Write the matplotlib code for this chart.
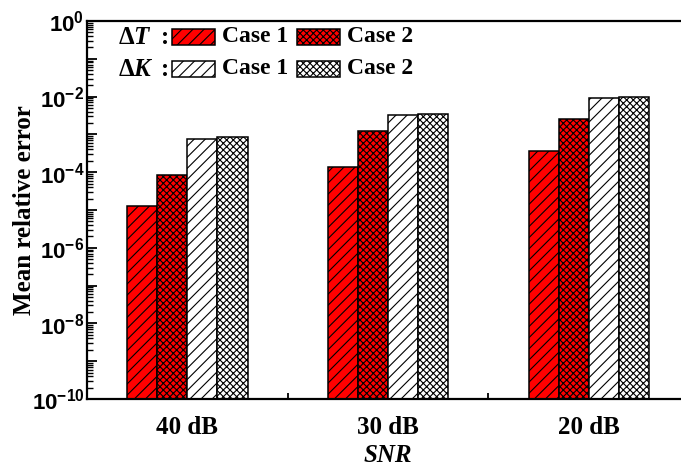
import numpy as np
import matplotlib
matplotlib.use("Agg")
import matplotlib.pyplot as plt
from matplotlib.patches import Rectangle
from matplotlib.ticker import FixedLocator, NullFormatter

plt.rcParams["mathtext.fontset"] = "custom"
plt.rcParams["mathtext.rm"] = "Liberation Serif:bold"
plt.rcParams["mathtext.it"] = "Liberation Serif:italic:bold"
plt.rcParams["mathtext.bf"] = "Liberation Sans:bold"
plt.rcParams["hatch.linewidth"] = 0.8

# data
snr_levels = ["40 dB", "30 dB", "20 dB"]
dT_case1 = [1.3e-5, 1.35e-4, 3.7e-4]
dT_case2 = [8.3e-5, 1.25e-3, 2.55e-3]
dK_case1 = [7.6e-4, 3.25e-3, 9.2e-3]
dK_case2 = [8.7e-4, 3.45e-3, 9.8e-3]
y_exponents = [0, -2, -4, -6, -8, -10]

series = [
    (dT_case1, "red", "///"),
    (dT_case2, "red", "xxxxx"),
    (dK_case1, "white", "///"),
    (dK_case2, "white", "xxxxx"),
]

fig = plt.figure(figsize=(6.81, 4.72), dpi=100)
ax = fig.add_axes([0.1278, 0.1547, 0.884, 0.8008])

x = np.arange(1, len(snr_levels) + 1)
width = 0.15
offsets = (np.arange(len(series)) - 1.5) * width
floor = 1e-10
for (vals, color, hatch), off in zip(series, offsets):
    ax.bar(x + off, np.array(vals) - floor, width, bottom=floor, color=color,
           edgecolor="black", hatch=hatch, linewidth=1.1)

ax.set_yscale("log")
ax.set_ylim(1e-10, 1)
ax.set_xlim(0.5, len(snr_levels) + 0.5)

# y ticks
major = [10.0 ** e for e in range(-10, 1)]
ax.yaxis.set_major_locator(FixedLocator(major))
ax.yaxis.set_minor_locator(FixedLocator(
    [m * 10.0 ** e for e in range(-10, 0) for m in range(2, 10)]))
labels = []
for e in range(-10, 1):
    labels.append(r"$\mathbf{10^{%d}}$" % e if e in y_exponents else "")
ax.set_yticklabels(labels, fontsize=16)
ax.yaxis.set_minor_formatter(NullFormatter())
ax.tick_params(axis="y", which="major", direction="in", length=7, width=1.3, pad=2)
ax.tick_params(axis="y", which="minor", direction="in", length=4, width=1.0)

# x ticks
ax.set_xticks(x)
ax.set_xticklabels(snr_levels, fontsize=18, fontfamily="Liberation Serif",
                   fontweight="bold")
ax.set_xticks(x[:-1] + 0.5, minor=True)
ax.tick_params(axis="x", which="major", length=0, pad=12)
ax.tick_params(axis="x", which="minor", direction="in", length=4, width=1.3)

for side in ["left", "bottom", "top", "right"]:
    ax.spines[side].set_linewidth(1.6)

ax.set_ylabel("Mean relative error", fontsize=18, fontfamily="Liberation Serif",
              fontweight="bold")
ax.yaxis.set_label_coords(-0.085, 0.5)
ax.set_xlabel("SNR", fontsize=18, fontfamily="Liberation Serif",
              fontweight="bold", fontstyle="italic")
ax.xaxis.set_label_coords(0.5, -0.12)

# legend drawn in figure pixel coordinates
W, H = 681, 472
def fx(px):
    return px / W
def fy(py):
    return 1 - py / H

rows = [
    (r"$\Delta T$", 37, series[0], series[1]),
    (r"$\Delta K$", 69, series[2], series[3]),
]
for title, yc, s1, s2 in rows:
    fig.text(fx(118), fy(yc), title, fontsize=18, fontfamily="Liberation Serif",
             fontweight="bold", va="center", ha="left")
    fig.text(fx(161), fy(yc), ":", fontsize=18, fontfamily="Liberation Serif",
             fontweight="bold", va="center", ha="left")
    for xp, (vals, color, hatch), lab in [(172, s1, "Case 1"), (297, s2, "Case 2")]:
        fig.patches.append(Rectangle((fx(xp), fy(yc + 8)), fx(43), 16 / H,
                                     transform=fig.transFigure, facecolor=color,
                                     edgecolor="black", hatch=hatch,
                                     linewidth=1.1))
        fig.text(fx(xp + 50), fy(yc), lab, fontsize=17,
                 fontfamily="Liberation Serif", fontweight="bold",
                 va="center", ha="left")

fig.savefig("out.png", dpi=100)
